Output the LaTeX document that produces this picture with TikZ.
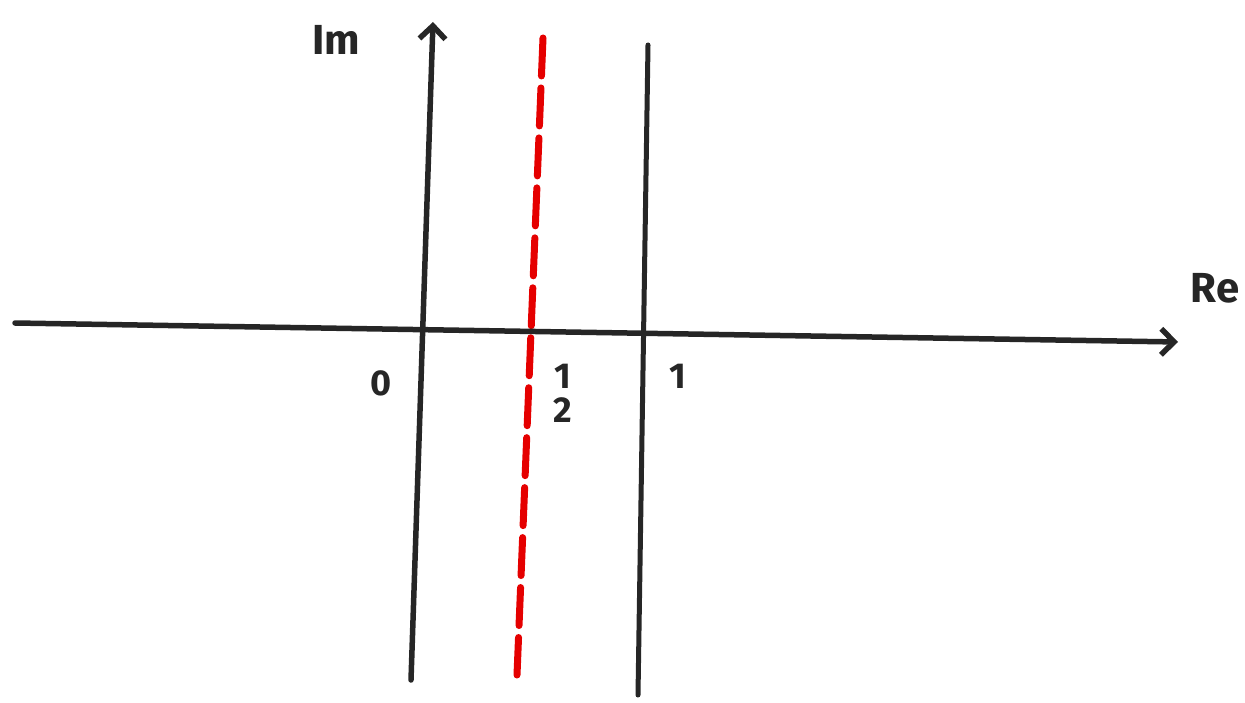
\documentclass[tikz,border=0pt]{standalone}
\usepackage{fontspec}
\setmainfont{Fira Sans}
\usetikzlibrary{arrows.meta}
\begin{document}
\begin{tikzpicture}[x=1pt,y=-1pt,
  axis/.style={line width=5.5pt,draw=black!85,line cap=round,-{Straight Barb[length=13pt,width=26pt,line width=5.5pt]}},
  plain/.style={line width=5pt,draw=black!85,line cap=round},
  reddash/.style={line width=7pt,draw=red!90!black,line cap=round,dash pattern=on 38pt off 12pt},
  lbl/.style={font=\bfseries\fontsize{42}{44}\selectfont,text=black!85,inner sep=0pt},
  num/.style={font=\bfseries\fontsize{36}{38}\selectfont,text=black!85,inner sep=0pt}]
\useasboundingbox (0,0) rectangle (1245,703);
\coordinate (imB) at (411,680);
\coordinate (imT) at (433,22);
\coordinate (reL) at (15,323);
\coordinate (reR) at (1178,342);
\coordinate (hT) at (543,38);
\coordinate (hB) at (517,675);
\coordinate (oT) at (648,45);
\coordinate (oB) at (638,695);
\draw[reddash] (hT) -- (hB);
\draw[plain] (oT) -- (oB);
\draw[axis] (imB) -- (imT);
\draw[axis] (reL) -- (reR);
\node[lbl] (im) at (336,40) {Im};
\node[lbl] (re) at (1215,288) {Re};
\node[num] (zero) at (381,383) {0};
\node[num] (halfn) at (563,376) {1};
\node[num] (halfd) at (563,410) {2};
\node[num] (one) at (678,376) {1};
\end{tikzpicture}
\end{document}
